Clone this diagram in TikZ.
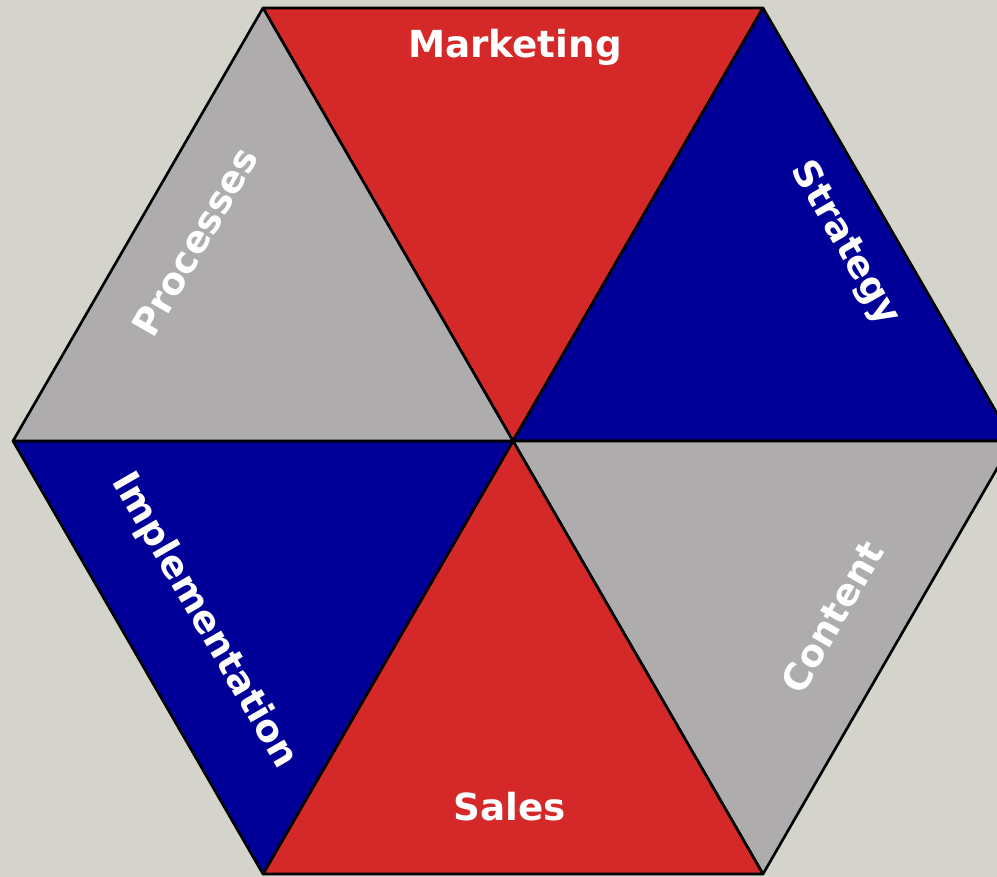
\documentclass[tikz,border=0pt]{standalone}
\usepackage{fontspec}
\setmainfont{DejaVu Sans}
\usetikzlibrary{positioning}
\definecolor{HexRed}{HTML}{D52829}
\definecolor{HexBlue}{HTML}{000099}
\definecolor{HexGray}{HTML}{AEACAD}
\definecolor{HexPaper}{HTML}{D4D4CC}

\begin{document}
\begin{tikzpicture}[x=0.01cm,y=-0.01cm,
    wedge/.style={draw=black,line width=0.75pt,line join=round},
    segtext/.style={text=white,inner sep=0pt,
      font=\bfseries\fontsize{10.6}{12}\selectfont}]
  \useasboundingbox (0,0) rectangle (997,877);
  \fill[HexPaper] (0,0) rectangle (997,877);
  \clip (0,0) rectangle (997,877);

  % hexagon corners
  \coordinate (hub) at (513,441);
  \coordinate (tl) at (263,8);
  \coordinate (tr) at (763,8);
  \coordinate (rt) at (1013,441);
  \coordinate (br) at (763,874);
  \coordinate (bl) at (263,874);
  \coordinate (lf) at (13,441);

  % six wedges round the hub
  \foreach \a/\b/\col in {tl/tr/HexRed, tr/rt/HexBlue, rt/br/HexGray,
                          br/bl/HexRed, bl/lf/HexBlue, lf/tl/HexGray}
    \filldraw[wedge,fill=\col] (hub) -- (\a) -- (\b) -- cycle;

  \node[segtext] (marketing) at (515,47) {Marketing};
  \node[segtext,rotate=-60] (strategy) at (845,244) {Strategy};
  \node[segtext,rotate=60] (content) at (832,617) {Content};
  \node[segtext] (sales) at (510,807) {Sales};
  \node[segtext,rotate=-60] (implementation) at (204,621) {Implementation};
  \node[segtext,rotate=60] (processes) at (195,242) {Processes};
\end{tikzpicture}
\end{document}
